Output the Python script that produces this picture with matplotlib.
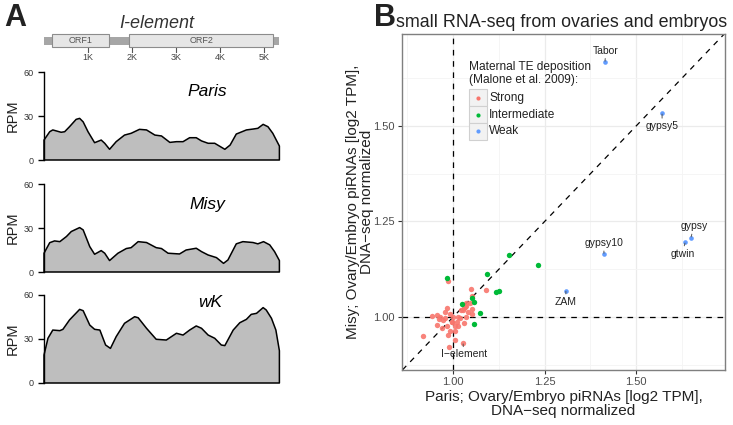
import matplotlib

matplotlib.use("Agg")
import matplotlib.pyplot as plt
from matplotlib.patches import Rectangle

plt.rcParams["font.family"] = ["Liberation Sans", "DejaVu Sans"]

# ---- panel A: I-element structure and piRNA coverage ----
element_len = 5.35  # kb
orf_names = ["ORF1", "ORF2"]
orf_start = [0.18, 1.94]
orf_end = [1.47, 5.21]
kb_ticks = [1, 2, 3, 4, 5]
kb_labels = ["1K", "2K", "3K", "4K", "5K"]

strains = ["Paris", "Misy", "wK"]
paris_pos = [0, 0.13, 0.20, 0.39, 0.47, 0.58, 0.73, 0.81, 0.89, 1.00, 1.15, 1.30, 1.38,
             1.49, 1.64, 1.83, 1.98, 2.17, 2.33, 2.52, 2.67, 2.86, 3.01, 3.16, 3.31, 3.46,
             3.58, 3.73, 3.88, 4.11, 4.23, 4.37, 4.60, 4.75, 4.86, 4.98, 5.09, 5.20, 5.35]
paris_rpm = [13.6, 19.3, 20.5, 18.9, 19.3, 22.7, 27.7, 28.4, 26.0, 19.3, 11.8, 13.6, 11.4,
             7.3, 12.5, 17.0, 18.2, 20.9, 20.5, 17.0, 16.4, 12.0, 12.5, 12.5, 15.2, 15.2,
             13.0, 11.4, 11.4, 7.3, 10.2, 17.7, 20.5, 21.1, 21.6, 24.3, 22.7, 18.2, 9.5]
misy_pos = [0, 0.13, 0.24, 0.36, 0.51, 0.62, 0.81, 0.89, 1.04, 1.15, 1.30, 1.38, 1.49,
            1.68, 1.87, 1.98, 2.14, 2.33, 2.55, 2.67, 2.82, 3.08, 3.23, 3.46, 3.58, 3.73,
            3.92, 4.08, 4.18, 4.37, 4.52, 4.75, 4.86, 4.99, 5.13, 5.24, 5.35]
misy_rpm = [12.8, 20.0, 21.2, 20.7, 24.2, 27.6, 30.3, 28.7, 17.3, 12.1, 14.6, 12.8, 7.8,
            12.8, 16.0, 16.6, 20.7, 20.1, 16.6, 16.0, 12.8, 12.3, 15.0, 16.2, 13.9, 11.6,
            9.8, 5.9, 8.2, 19.2, 20.7, 20.1, 19.2, 20.7, 18.5, 13.9, 7.8]
wk_pos = [0, 0.09, 0.20, 0.36, 0.43, 0.58, 0.81, 0.89, 1.04, 1.15, 1.27, 1.40, 1.51,
          1.64, 1.83, 2.06, 2.14, 2.33, 2.55, 2.78, 3.01, 3.16, 3.31, 3.46, 3.58, 3.73,
          3.88, 4.03, 4.11, 4.30, 4.45, 4.60, 4.71, 4.83, 4.98, 5.05, 5.17, 5.27, 5.35]
wk_rpm = [19.1, 30.5, 36.1, 35.7, 36.6, 43.0, 50.2, 49.3, 39.5, 36.6, 36.1, 25.9, 23.6,
          31.6, 40.7, 45.2, 44.5, 37.3, 29.8, 29.3, 33.9, 32.7, 36.1, 38.9, 37.3, 32.7,
          30.5, 25.9, 25.5, 36.1, 41.1, 43.4, 46.8, 47.5, 51.4, 49.8, 44.1, 36.1, 22.0]

# ---- panel B: Paris vs Misy piRNA levels ----
strong_x = [0.918, 0.942, 0.955, 0.964, 0.977, 0.973, 0.982, 0.977, 0.987, 0.968, 0.955,
            0.982, 0.986, 0.991, 0.988, 1.005, 0.996, 1.009, 0.998, 1.014, 1.005, 1.005,
            1.018, 1.012, 0.991, 1.020, 1.027, 1.029, 1.032, 1.034, 1.035, 1.029, 1.050,
            1.050, 1.046, 1.035, 1.048, 1.091, 1.052, 1.000, 0.960, 1.040, 1.027]
strong_y = [0.950, 1.002, 1.005, 1.001, 0.997, 0.992, 1.024, 1.014, 1.093, 0.970, 0.979,
            0.975, 0.953, 0.963, 0.921, 0.940, 0.988, 0.988, 0.986, 0.976, 0.975, 0.962,
            0.997, 1.001, 1.007, 1.018, 1.018, 1.023, 1.025, 1.029, 1.001, 0.985, 1.021,
            1.007, 1.036, 1.036, 1.073, 1.071, 1.055, 1.000, 0.995, 1.012, 0.931]
inter_x = [0.982, 1.092, 1.153, 1.233, 1.116, 1.125, 1.023, 1.050, 1.056, 1.073, 1.058]
inter_y = [1.103, 1.113, 1.161, 1.137, 1.064, 1.067, 1.034, 1.049, 1.039, 1.011, 0.982]
weak_x = [1.415, 1.571, 1.650, 1.634, 1.412, 1.308]
weak_y = [1.668, 1.533, 1.208, 1.195, 1.165, 1.069]

label_names = ["Tabor", "gypsy5", "gypsy", "gtwin", "gypsy10", "ZAM", "I\u2212element"]
label_x = [1.415, 1.571, 1.650, 1.634, 1.412, 1.308, 1.027]
label_y = [1.668, 1.533, 1.208, 1.195, 1.165, 1.069, 0.931]
label_offset = [(0.5, 8), (0, -9), (2, 8), (-2, -8), (0, 7.7), (0, -8), (0.5, -8)]

groups = ["Strong", "Intermediate", "Weak"]
colors = ["#F8766D", "#00BA38", "#619CFF"]

W, H = 733, 425


def box(l, t, r, b):
    return [l / W, 1 - b / H, (r - l) / W, (b - t) / H]


fig = plt.figure(figsize=(W / 100, H / 100), dpi=100)

# gene diagram
axg = fig.add_axes(box(44, 28, 279.4, 64))
axg.set_xlim(0, element_len)
axg.set_ylim(64, 28)
axg.axis("off")
axg.add_patch(Rectangle((0, 37.3), element_len, 7.7, facecolor="#a6a6a6", edgecolor="none"))
for name, s, e in zip(orf_names, orf_start, orf_end):
    axg.add_patch(Rectangle((s, 34.3), e - s, 12.4, facecolor="#e6e6e6",
                            edgecolor="#8c8c8c", lw=0.8))
    axg.text((s + e) / 2, 40.6, name, ha="center", va="center", fontsize=6.5, color="#555555")
for k, lab in zip(kb_ticks, kb_labels):
    axg.plot([k, k], [48.3, 52.3], color="#555555", lw=0.8)
    axg.text(k, 57.5, lab, ha="center", va="center", fontsize=6.5, color="#444444")
fig.text(157 / W, 1 - 23 / H, "I-element", ha="center", va="center", fontsize=13,
         style="italic", color="#333333")

cov_boxes = [(72, 160), (184, 272), (295, 383)]
cov_pos = [paris_pos, misy_pos, wk_pos]
cov_rpm = [paris_rpm, misy_rpm, wk_rpm]
name_xy = [(0.694, 0.78), (0.694, 0.77), (0.706, 0.915)]
for (t, b), pos, rpm, strain, nxy in zip(cov_boxes, cov_pos, cov_rpm, strains, name_xy):
    ax = fig.add_axes(box(44, t, 279.4, b))
    ax.fill(pos + [pos[-1], pos[0]], rpm + [0, 0], facecolor="#bebebe", edgecolor="black",
            lw=1.1, clip_on=False, joinstyle="round")
    ax.set_xlim(0, element_len)
    ax.set_ylim(0, 60)
    ax.set_yticks([0, 30, 60])
    ax.set_xticks([])
    for sp in ["top", "right", "bottom"]:
        ax.spines[sp].set_visible(False)
    ax.spines["left"].set_linewidth(1.0)
    ax.tick_params(axis="y", length=4.5, width=1.0, labelsize=6.5, pad=3, labelcolor="#333333")
    ax.set_ylabel("RPM", fontsize=10.5, labelpad=1, color="#222222")
    ax.yaxis.set_label_coords(-0.105, 0.5)
    ax.text(nxy[0], nxy[1], strain, transform=ax.transAxes, ha="center", va="center",
            fontsize=12.5, style="italic")
    ax.patch.set_alpha(0)

# scatter panel
axs = fig.add_axes(box(402, 34, 725, 370))
axs.set_xlim(0.860, 1.743)
axs.set_ylim(0.861, 1.741)
axs.set_xticks([1.0, 1.25, 1.5])
axs.set_yticks([1.0, 1.25, 1.5])
axs.set_xticks([0.875, 1.125, 1.375, 1.625], minor=True)
axs.set_yticks([0.875, 1.125, 1.375, 1.625], minor=True)
axs.set_xticklabels(["1.00", "1.25", "1.50"])
axs.set_yticklabels(["1.00", "1.25", "1.50"])
axs.grid(which="major", color="#ebebeb", lw=0.9)
axs.grid(which="minor", color="#f4f4f4", lw=0.6)
axs.set_axisbelow(True)
axs.tick_params(which="minor", length=0)
axs.tick_params(which="major", length=3, width=0.8, color="#333333", labelsize=8,
                labelcolor="#4d4d4d", pad=2)
for sp in axs.spines.values():
    sp.set_color("#7f7f7f")
    sp.set_linewidth(1.0)

dash = (0, (4.5, 4.5))
axs.axvline(1.0, color="black", lw=0.9, ls=dash, zorder=2)
axs.axhline(1.0, color="black", lw=0.9, ls=dash, zorder=2)
axs.axline((1.0, 1.0), slope=1, color="black", lw=0.9, ls=dash, zorder=2)

axs.scatter(strong_x, strong_y, s=15, color=colors[0], alpha=0.9, lw=0, zorder=3)
axs.scatter(inter_x, inter_y, s=15, color=colors[1], lw=0, zorder=3)
axs.scatter(weak_x, weak_y, s=11, color=colors[2], lw=0, zorder=3)

for name, x, y, off in zip(label_names, label_x, label_y, label_offset):
    axs.annotate(name, (x, y), xytext=off, textcoords="offset points", ha="center",
                 va="center", fontsize=7.5, color="#222222", zorder=4,
                 arrowprops=dict(arrowstyle="-", color="#555555", lw=0.7,
                                 shrinkA=0, shrinkB=0.5))

# legend drawn ggplot style
fig.text(469 / W, 1 - 73.5 / H, "Maternal TE deposition\n(Malone et al. 2009):",
         ha="left", va="center", fontsize=8.6, linespacing=1.05, color="#222222")
key_tops = [89, 106, 123]
for grp, col, kt in zip(groups, colors, key_tops):
    axs.add_patch(Rectangle((469 / W, 1 - (kt + 17) / H), 18 / W, 17 / H,
                            transform=fig.transFigure, facecolor="#f2f2f2",
                            edgecolor="#d0d0d0", lw=0.8, zorder=5, clip_on=False))
    axs.scatter([478 / W], [1 - (kt + 8.5) / H], s=9, color=col, lw=0,
                transform=fig.transFigure, zorder=6, clip_on=False)
    fig.text(489 / W, 1 - (kt + 8.5) / H, grp, ha="left", va="center", fontsize=8.6,
             color="#222222")

fig.text(562 / W, 1 - 27 / H, "small RNA-seq from ovaries and embryos", ha="center",
         va="baseline", fontsize=12.9, color="#222222")
fig.text(563.5 / W, 1 - 403.5 / H, "Paris; Ovary/Embryo piRNAs [log2 TPM],\nDNA\u2212seq normalized",
         ha="center", va="center", fontsize=11, linespacing=1.0, color="#222222")
fig.text(360 / W, 1 - 202 / H, "Misy; Ovary/Embryo piRNAs [log2 TPM],\nDNA\u2212seq normalized",
         ha="center", va="center", fontsize=11, linespacing=1.0, rotation=90, color="#222222")

fig.text(4 / W, 1 - 26 / H, "A", fontsize=22, weight="bold", va="baseline", color="#222222")
fig.text(374 / W, 1 - 26 / H, "B", fontsize=22, weight="bold", va="baseline", color="#222222")

fig.savefig("out.png", dpi=100)
